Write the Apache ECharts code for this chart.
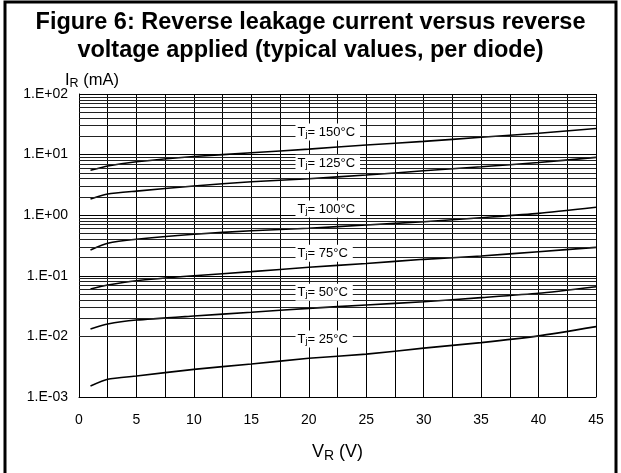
<!DOCTYPE html>
<html>
<head>
<meta charset="utf-8">
<script src="https://cdn.jsdelivr.net/npm/echarts@6/dist/echarts.min.js"></script>
<style>html,body{margin:0;padding:0;background:#fff}#c{width:621px;height:473px}</style>
</head>
<body>
<div id="c"></div>
<script>
// ---- data ----
const vr = [1, 2.5, 5, 10, 15, 20, 25, 30, 35, 40, 45];
const t150 = [5.5, 6.5, 7.6, 9.3, 10.7, 12.3, 14.4, 16.5, 19.3, 22.5, 27];
const t125 = [1.85, 2.24, 2.5, 3.03, 3.57, 4.0, 4.6, 5.4, 6.3, 7.4, 9.0];
const t100 = [0.267, 0.344, 0.40, 0.484, 0.555, 0.608, 0.69, 0.78, 0.91, 1.07, 1.35];
const t75 = [0.0605, 0.0705, 0.083, 0.10, 0.117, 0.138, 0.16, 0.187, 0.212, 0.25, 0.295];
const t50 = [0.0132, 0.016, 0.0186, 0.0217, 0.025, 0.029, 0.033, 0.0374, 0.0436, 0.0514, 0.066];
const t25 = [0.00152, 0.00196, 0.00222, 0.00286, 0.0035, 0.00435, 0.0051, 0.0064, 0.0079, 0.0102, 0.0145];
const tempLabels = ['150', '125', '100', '75', '50', '25'];
const yTickLabels = ['1.E-03', '1.E-02', '1.E-01', '1.E+00', '1.E+01', '1.E+02'];
const xTickLabels = ['0', '5', '10', '15', '20', '25', '30', '35', '40', '45'];
const minorMultipliers = [2, 3, 4, 5, 6, 7, 8, 9];
const decades = [0.001, 0.01, 0.1, 1, 10];

const FONT = 'Liberation Sans, Arial, Helvetica, sans-serif';
const seriesData = [t150, t125, t100, t75, t50, t25];
const labelAnchorY = [23.6, 7.2, 1.26, 0.235, 0.0534, 0.00906];

const minorLines = [];
decades.forEach(d => minorMultipliers.forEach(m => minorLines.push({ yAxis: d * m })));

const chart = echarts.init(document.getElementById('c'), null, { renderer: 'canvas' });

const series = [{
  type: 'line', data: [], z: 1, silent: true,
  markLine: {
    silent: true, symbol: ['none', 'none'], animation: false,
    label: { show: false },
    lineStyle: { color: '#222', width: 1, type: 'solid' },
    data: minorLines
  }
}];
seriesData.forEach((arr, i) => {
  series.push({
    type: 'line', name: tempLabels[i], z: 3,
    data: vr.map((v, k) => [v, arr[k]]),
    showSymbol: false, smooth: 0.2,
    lineStyle: { color: '#000', width: 1.6 },
    animation: false,
    markPoint: {
      symbol: 'rect', symbolSize: 1, animation: false,
      itemStyle: { color: 'rgba(0,0,0,0)' },
      label: {
        show: true, position: 'right', distance: 0,
        backgroundColor: '#fff', padding: [1, 5, 1, 2],
        formatter: '{t|T}{j|j}{t|= ' + tempLabels[i] + '°C}',
        rich: {
          t: { fontFamily: FONT, fontSize: 13, color: '#000', lineHeight: 15 },
          j: { fontFamily: FONT, fontSize: 9.5, color: '#000', lineHeight: 15, verticalAlign: 'bottom', padding: [5, 0, 0, 0] }
        }
      },
      data: [{ coord: [18.8, labelAnchorY[i]] }]
    }
  });
});
// V = 20 grid line drawn over the labels, as in the reference
series.push({
  type: 'line', data: [], z: 5, silent: true,
  markLine: {
    silent: true, symbol: ['none', 'none'], animation: false,
    label: { show: false },
    lineStyle: { color: '#000', width: 1, type: 'solid' },
    data: [{ xAxis: 20 }]
  }
});

const option = {
  animation: false,
  backgroundColor: '#fff',
  title: {
    text: 'Figure 6: Reverse leakage current versus reverse\nvoltage applied (typical values, per diode)',
    left: 'center', top: 4,
    textStyle: { fontFamily: FONT, fontSize: 23.5, fontWeight: 'bold', color: '#000', lineHeight: 28 }
  },
  grid: { left: 79, right: 25, top: 94, bottom: 76 },
  xAxis: {
    type: 'value', min: 0, max: 45, interval: 2.5,
    axisLine: { show: true, lineStyle: { color: '#000', width: 1 } },
    axisTick: { show: false },
    splitLine: { show: true, lineStyle: { color: '#000', width: 1 } },
    axisLabel: {
      fontFamily: FONT, fontSize: 14, color: '#000', margin: 16,
      formatter: function (v) { const idx = xTickLabels.indexOf(String(v)); return idx >= 0 ? xTickLabels[idx] : ''; }
    },
    name: '{a|V}{b|R}{a| (V)}', nameLocation: 'middle', nameGap: 44,
    nameTextStyle: {
      rich: {
        a: { fontFamily: FONT, fontSize: 18, color: '#000', lineHeight: 22 },
        b: { fontFamily: FONT, fontSize: 14, color: '#000', lineHeight: 22, verticalAlign: 'bottom', padding: [6, 0, 0, 0] }
      }
    }
  },
  yAxis: {
    type: 'log', logBase: 10, min: 0.001, max: 100,
    axisLine: { show: true, lineStyle: { color: '#000', width: 1 } },
    axisTick: { show: false },
    splitLine: { show: true, lineStyle: { color: '#000', width: 1 } },
    axisLabel: {
      fontFamily: FONT, fontSize: 14, color: '#000', margin: 11,
      formatter: function (v, i) { return yTickLabels[i]; }
    }
  },
  graphic: [
    {
      type: 'rect', silent: true, z: 100,
      shape: { x: 5, y: 2, width: 611, height: 480 },
      style: { fill: 'none', stroke: '#000', lineWidth: 3 }
    },
    {
      type: 'text', left: 65, top: 71, silent: true,
      style: {
        text: '{a|I}{b|R}{a| (mA)}',
        rich: {
          a: { fontFamily: FONT, fontSize: 16.5, fill: '#000', lineHeight: 20 },
          b: { fontFamily: FONT, fontSize: 12.5, fill: '#000', lineHeight: 20, verticalAlign: 'bottom', padding: [6, 0, 0, 0] }
        }
      }
    }
  ],
  series: series
};
chart.setOption(option);
</script>
</body>
</html>
